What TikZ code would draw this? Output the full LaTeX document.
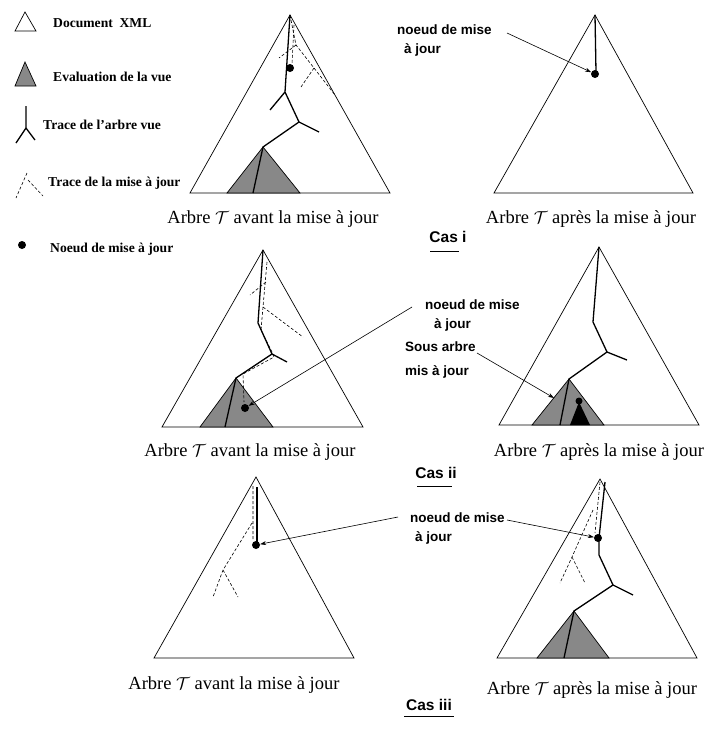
\documentclass[tikz,border=0pt]{standalone}
\usepackage{fontspec}
\setmainfont{Liberation Serif}
\setsansfont{Liberation Sans}
\usetikzlibrary{arrows.meta}
\tikzset{>=Stealth}
\definecolor{evalgray}{RGB}{136,136,136}

\begin{document}
\begin{tikzpicture}[x=1pt,y=-1pt,
    tri/.style={draw, line width=0.7pt},
    evalzone/.style={draw, fill=evalgray, line width=0.7pt},
    trace/.style={line width=1.3pt},
    maj/.style={dash pattern=on 3pt off 2pt, line width=0.6pt},
    dot/.style={circle, fill=black, inner sep=0pt, minimum size=8pt},
    ptr/.style={-{Stealth[length=6pt,width=4pt]}, line width=0.6pt},
    legend/.style={anchor=west, inner sep=0pt, font=\bfseries\fontsize{13.6}{15}\selectfont},
    lab/.style={anchor=west, inner sep=0pt, font=\sffamily\bfseries\fontsize{13.5}{16}\selectfont},
    caption/.style={inner sep=0pt, font=\fontsize{18.5}{22}\selectfont},
    cas/.style={inner sep=0pt, font=\sffamily\bfseries\fontsize{15.5}{18}\selectfont}
  ]
  \useasboundingbox (0,0) rectangle (707,731);

  % legende
  \draw[tri] (25,12) -- (15,31) -- (36,31) -- cycle;
  \node[legend] (legdoc) at (53,23) {Document\ \ XML};
  \draw[evalzone] (25,62) -- (15,86) -- (36,86) -- cycle;
  \node[legend] (legeval) at (53,77) {Evaluation de la vue};
  \draw[trace] (26,106) -- (26,128) -- (16,143) (26,128) -- (35,140);
  \node[legend] (legtrace) at (43,125) {Trace de l'arbre vue};
  \draw[maj] (27,173) -- (16,198) (28,180) -- (43,196);
  \node[legend] (legmaj) at (48,183) {Trace de la mise à jour};
  \node[dot] (legdot) at (22,245) {};
  \node[legend] (legnoeud) at (50,249) {Noeud de mise à jour};

  % cas i
  \draw[tri] (290,15) -- (190,193) -- (390,193) -- cycle;
  \draw[evalzone] (263,147) -- (227,193) -- (300,193) -- cycle;
  \draw[trace] (290,15) -- (285,92) -- (299,122) -- (263,147) -- (253,193);
  \draw[trace] (285,92) -- (270,110) (299,122) -- (319,132);
  \draw[maj] (290,15) -- (296,45) -- (314,68) -- (335,95);
  \draw[maj] (296,45) -- (279,58) (314,68) -- (301,87) (294,25) -- (292,64);
  \node[dot] (upd1) at (290,68) {};

  \draw[tri] (595,15) -- (494,193) -- (693,193) -- cycle;
  \draw[trace] (595,15) -- (596,72);
  \node[dot] (upd2) at (595,74) {};
  \node[lab] (lab1) at (397,30) {noeud de mise};
  \node[lab] (lab1b) at (404,50) {à jour};
  \coordinate (from1) at (507,33);
  \draw[ptr] (from1) -- (upd2);

  \node[caption] (cap1) at (273,219) {Arbre $\mathcal{T}$ avant la mise à jour};
  \node[caption] (cap2) at (591,219) {Arbre $\mathcal{T}$ après la mise à jour};
  \node[cas] (casi) at (448,237) {Cas i};
  \draw[line width=0.8pt] (430,251) -- (459,251);

  % cas ii
  \draw[tri] (263,250) -- (162,427) -- (363,427) -- cycle;
  \draw[evalzone] (236,378) -- (200,427) -- (273,427) -- cycle;
  \draw[trace] (263,250) -- (258,323) -- (272,354) -- (236,378) -- (225,427);
  \draw[trace] (272,354) -- (287,362);
  \draw[maj] (267,262) -- (263,307) -- (261,330) -- (272,352) -- (274,357) -- (243,374) -- (244,402);
  \draw[maj] (266,282) -- (250,295) (263,307) -- (303,337);
  \node[dot] (upd3) at (245,408) {};
  \node[lab] (lab2) at (425,305) {noeud de mise};
  \node[lab] (lab2b) at (434,325) {à jour};
  \coordinate (from2) at (412,307);
  \draw[ptr] (from2) -- (upd3);

  \draw[tri] (599,247) -- (499,425) -- (699,425) -- cycle;
  \draw[evalzone] (569,379) -- (532,425) -- (604,425) -- cycle;
  \fill (579,402) -- (570,425) -- (590,425) -- cycle;
  \node[dot, minimum size=7pt] (newsub) at (579,401) {};
  \draw[trace] (599,247) -- (593,322) -- (607,352) -- (569,379) -- (560,425);
  \draw[trace] (607,352) -- (627,360);
  \node[lab] (lab3) at (405,347) {Sous arbre};
  \node[lab] (lab3b) at (405,372) {mis à jour};
  \coordinate (from3) at (477,353);
  \coordinate (subtip) at (554,398);
  \draw[ptr] (from3) -- (subtip);

  \node[caption] (cap3) at (250,452) {Arbre $\mathcal{T}$ avant la mise à jour};
  \node[caption] (cap4) at (599,452) {Arbre $\mathcal{T}$ après la mise à jour};
  \node[cas] (casii) at (436,473) {Cas ii};
  \draw[line width=0.8pt] (417,486) -- (452,486);

  % cas iii
  \draw[tri] (256,477) -- (154,658) -- (354,658) -- cycle;
  \draw[trace] (257,487) -- (257,542);
  \draw[maj] (253,486) -- (253,540) (252,523) -- (223,570) -- (213,597) (223,570) -- (238,597);
  \node[dot] (upd4) at (256,545) {};

  \draw[tri] (600,479) -- (497,658) -- (697,658) -- cycle;
  \draw[evalzone] (574,611) -- (537,658) -- (609,658) -- cycle;
  \draw[trace] (605,482) -- (599,538) -- (599,555) -- (613,585) -- (574,611) -- (564,658);
  \draw[trace] (613,585) -- (633,595);
  \draw[maj] (600,482) -- (595,533) (593,510) -- (572,557) -- (560,583) (572,557) -- (585,583);
  \node[dot] (upd5) at (598,538) {};

  \node[lab] (lab4) at (410,518) {noeud de mise};
  \node[lab] (lab4b) at (415,538) {à jour};
  \coordinate (from4) at (398,517);
  \coordinate (from5) at (507,520);
  \draw[ptr] (from4) -- (upd4);
  \draw[ptr] (from5) -- (upd5);

  \node[caption] (cap5) at (234,685) {Arbre $\mathcal{T}$ avant la mise à jour};
  \node[caption] (cap6) at (592,690) {Arbre $\mathcal{T}$ après la mise à jour};
  \node[cas] (casiii) at (429,705) {Cas iii};
  \draw[line width=0.8pt] (404,716) -- (454,716);
\end{tikzpicture}
\end{document}
